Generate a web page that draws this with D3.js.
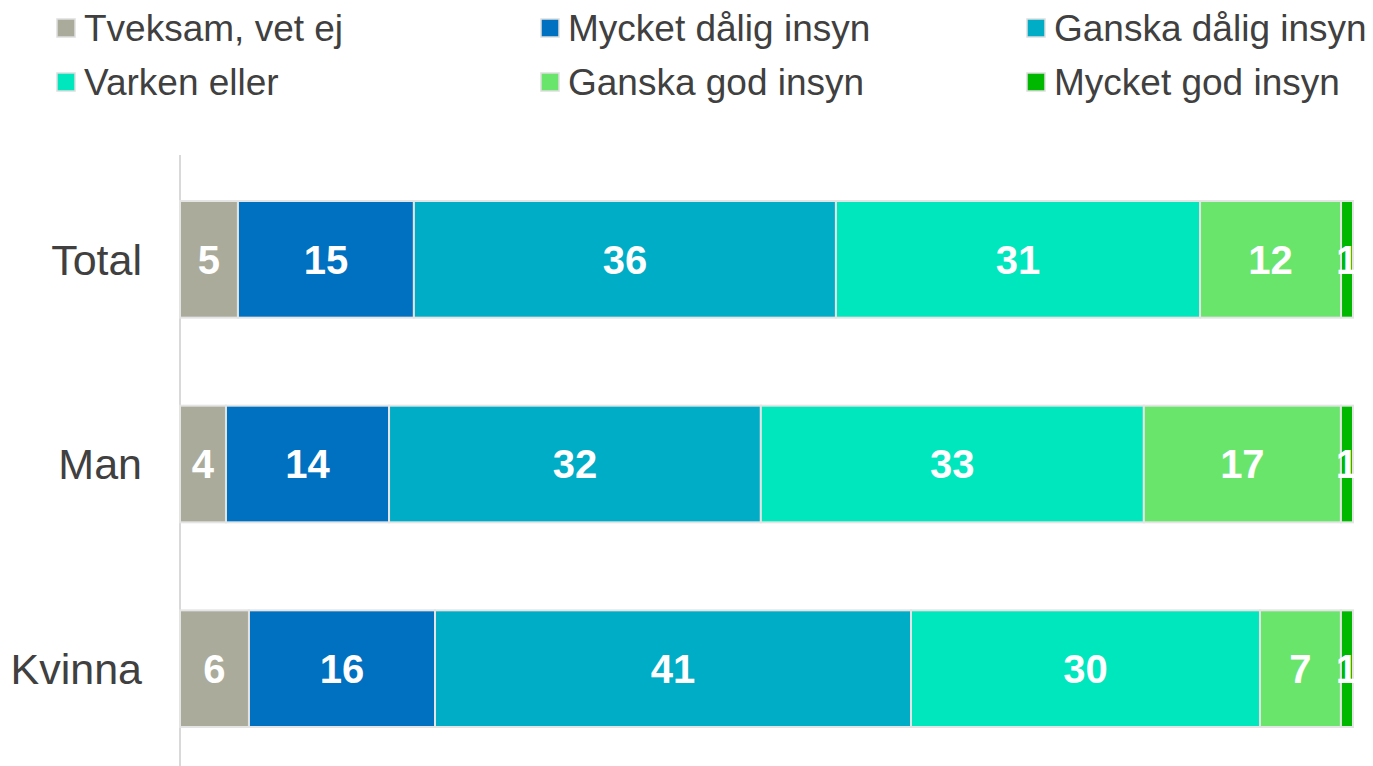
<!DOCTYPE html>
<html>
<head>
<meta charset="utf-8">
<script src="https://cdn.jsdelivr.net/npm/d3@7"></script>
<style>
  body { margin: 0; background: #fff; }
  text { font-family: "Liberation Sans", Arial, sans-serif; }
</style>
</head>
<body>
<svg width="1373" height="766"></svg>
<script>
const categories = ["Total", "Man", "Kvinna"];
const seriesNames = ["Tveksam, vet ej", "Mycket dålig insyn", "Ganska dålig insyn",
                     "Varken eller", "Ganska god insyn", "Mycket god insyn"];
const seriesColors = ["#abab9c", "#0070c0", "#00adc6", "#00e6bd", "#69e56b", "#00b800"];

// percentages per category, same order as seriesNames
const totalValues  = [4.94, 15.0, 35.98, 31.04, 12.02, 1.02];
const manValues    = [3.92, 13.9, 31.7, 32.65, 16.8, 1.03];
const kvinnaValues = [5.88, 15.86, 40.58, 29.75, 6.9, 1.03];
const valuesByCat = [totalValues, manValues, kvinnaValues];

const svg = d3.select("svg");

const x = d3.scaleLinear().domain([0, 100]).range([180, 1353]);
const y = d3.scaleBand().domain(categories).range([157, 771]).paddingInner(0.43).paddingOuter(0.215);

// stack the values
const rows = categories.map((c, i) => {
  const r = { cat: c };
  seriesNames.forEach((s, j) => r[s] = valuesByCat[i][j]);
  return r;
});
const stack = d3.stack().keys(seriesNames)(rows);

// axis line
svg.append("line")
  .attr("x1", 180).attr("x2", 180)
  .attr("y1", 155).attr("y2", 766)
  .attr("stroke", "#d9d9d9").attr("stroke-width", 2);

const layers = svg.selectAll("g.layer")
  .data(stack)
  .join("g")
  .attr("class", "layer")
  .attr("fill", (d, i) => seriesColors[i]);

layers.selectAll("rect")
  .data(d => d)
  .join("rect")
  .attr("x", d => x(d[0]))
  .attr("y", d => y(d.data.cat))
  .attr("width", d => x(d[1]) - x(d[0]))
  .attr("height", y.bandwidth())
  .attr("stroke", "#e4e4e4")
  .attr("stroke-width", 2);

layers.selectAll("text")
  .data(d => d)
  .join("text")
  .attr("x", d => (x(d[0]) + x(d[1])) / 2)
  .attr("y", d => y(d.data.cat) + y.bandwidth() / 2)
  .attr("dy", "0.36em")
  .attr("text-anchor", "middle")
  .attr("fill", "#fff")
  .attr("font-weight", "bold")
  .attr("font-size", 40)
  .text(d => Math.round(d[1] - d[0]));

// category labels
svg.selectAll("text.cat")
  .data(categories)
  .join("text")
  .attr("class", "cat")
  .attr("x", 142)
  .attr("y", d => y(d) + y.bandwidth() / 2)
  .attr("dy", "0.36em")
  .attr("text-anchor", "end")
  .attr("fill", "#404040")
  .attr("font-size", 43)
  .text(d => d);

// legend
const legX = [57, 541, 1027];
const legY = [28, 82];
const legend = svg.selectAll("g.leg")
  .data(seriesNames)
  .join("g")
  .attr("class", "leg")
  .attr("transform", (d, i) => `translate(${legX[i % 3]},${legY[Math.floor(i / 3)]})`);

legend.append("rect")
  .attr("x", 0).attr("y", -9)
  .attr("width", 18).attr("height", 18)
  .attr("fill", (d, i) => seriesColors[i])
  .attr("stroke", "#dedede").attr("stroke-width", 1.5);

legend.append("text")
  .attr("x", 27)
  .attr("dy", "0.36em")
  .attr("fill", "#404040")
  .attr("font-size", 37)
  .text(d => d);
</script>
</body>
</html>
